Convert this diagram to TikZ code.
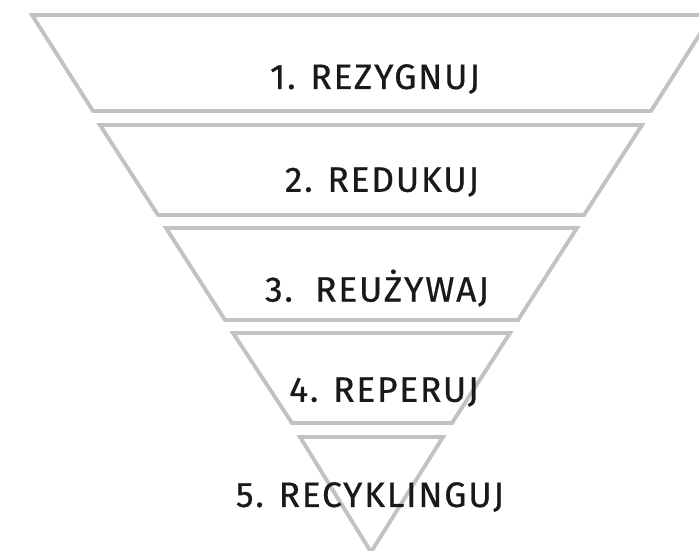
\documentclass[tikz,border=0pt]{standalone}
\usepackage{fontspec}
\setmainfont{Fira Sans}
\newfontfamily\handfont[LetterSpace=5,FakeBold=0.6]{Fira Sans}
\begin{document}
\begin{tikzpicture}[x=0.75pt,y=-0.75pt,
  layer/.style={draw=black!24,line width=2.9pt,line join=miter},
  lbl/.style={font=\handfont\fontsize{26.5}{30}\selectfont,text=black!90,inner sep=0pt,anchor=center}]
\useasboundingbox (0,0) rectangle (699,550);
\fill[white] (0,0) rectangle (699,550);
% layers
\draw[layer] (32,15) -- (712,15) -- (651,111) -- (93,111) -- cycle;
\draw[layer] (100,125) -- (642,125) -- (584,215) -- (158,215) -- cycle;
\draw[layer] (166,228) -- (577,228) -- (518,320) -- (225,320) -- cycle;
\draw[layer] (233,333) -- (510,333) -- (452,423) -- (292,423) -- cycle;
\draw[layer] (300,437) -- (443,437) -- (371,552) -- cycle;
% labels
\node[lbl] (t1) at (375,79) {1. REZYGNUJ};
\node[lbl] (t2) at (382,182) {2. REDUKUJ};
\node[lbl] (t3) at (377,288) {3.\ \ REUŻYWAJ};
\node[lbl] (t4) at (384,392) {4. REPERUJ};
\node[lbl] (t5) at (370,497) {5. RECYKLINGUJ};
\end{tikzpicture}
\end{document}
